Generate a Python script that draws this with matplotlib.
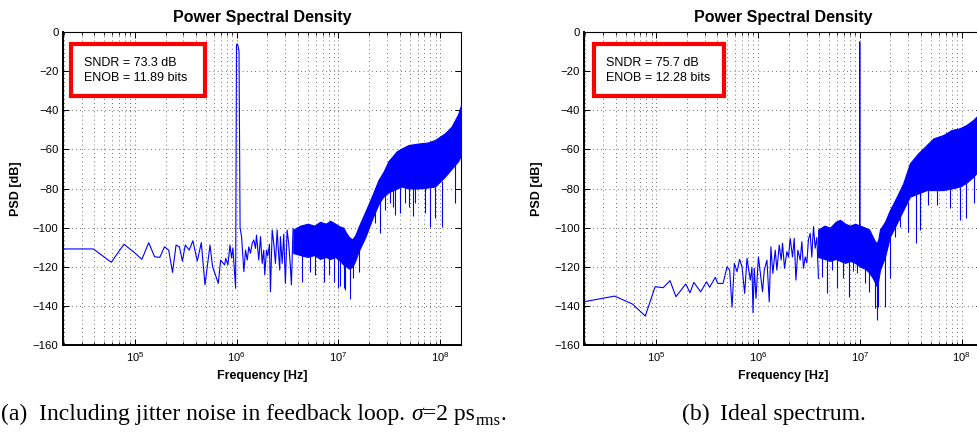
import matplotlib
matplotlib.use('Agg')
import matplotlib.pyplot as plt
from matplotlib.patches import Rectangle
from matplotlib.ticker import LogLocator, NullFormatter, LogFormatterSciNotation

plt.rcParams['font.family'] = ['Liberation Sans', 'DejaVu Sans']
plt.rcParams['mathtext.fontset'] = 'custom'
plt.rcParams['mathtext.rm'] = 'Liberation Sans'
plt.rcParams['mathtext.it'] = 'Liberation Sans:italic'
plt.rcParams['mathtext.bf'] = 'Liberation Sans:bold'

# ---------------- data: (a) jitter in feedback loop ----------------
a_sparse_f = [19531, 39062, 58594, 78125, 97656, 117187, 136719, 156250, 175781, 195312,
              214844, 234375, 253906, 273437, 292969, 312500, 341797, 371094, 410156, 449219,
              488281, 546875, 580000, 660156, 695312, 761719, 781250, 820312, 859375, 890000,
              918000, 976562, 996094, 1015625, 1035156, 1054687, 1080000, 1117000, 1177000, 1223000,
              1270000, 1316000, 1368000, 1421000, 1473000, 1531000, 1566000, 1649000, 1714000, 1781000,
              1846000, 1888000, 1963000, 2022000, 2100000, 2148000, 2233000, 2314000, 2404000, 2498000,
              2590000, 2650000, 2690000, 2800000, 2900000, 3010000, 3130000, 3245000, 3370000, 3450000,
              3580000]
a_sparse_db = [-110.9, -110.9, -117.7, -108.5, -112.5, -116.2, -107.7, -114.9, -115.2, -109.8,
               -111.5, -122.9, -108.9, -109.8, -117.1, -108.9, -111.5, -106.7, -117.1, -107.7,
               -129.3, -108.9, -120.0, -128.5, -116.6, -119.1, -115.7, -119.0, -108.9, -115.5,
               -110.4, -131.0, -6.5, -6.1, -7.5, -10.0, -100.0, -104.6, -122.5, -111.5,
               -116.6, -109.8, -113.1, -108.0, -106.3, -110.6, -103.8, -116.6, -104.6, -118.3,
               -111.5, -124.2, -111.5, -114.5, -108.5, -132.8, -101.2, -108.0, -118.3, -101.2,
               -114.5, -121.7, -104.6, -118.3, -103.3, -128.5, -101.2, -108.0, -120.0, -129.3,
               -100.4]

a_band_f = [3.6e6, 4.2e6, 5.0e6, 5.8e6, 6.6e6, 7.5e6, 8.3e6, 9.3e6, 1.04e7, 1.12e7,
            1.2e7, 1.28e7, 1.37e7, 1.46e7, 1.58e7, 1.83e7, 2.13e7, 2.47e7, 2.77e7, 3.1e7,
            3.74e7, 4.19e7, 4.86e7, 6.09e7, 7.5e7, 8.88e7, 1.11e8, 1.29e8, 1.5e8, 1.6e8]
a_band_top = [-101, -99, -98, -99, -97, -98, -96.5, -98, -99.5, -100,
              -103, -105, -106, -104, -99.5, -92, -84, -75.7, -71.4, -66,
              -61, -59.5, -57.8, -57, -56.5, -55.2, -51.8, -48.4, -42, -37.3]
a_band_bot = [-113, -114, -115, -114, -116, -115, -116, -115, -117, -119,
              -120, -121, -120, -117, -112, -105, -96, -88, -84, -82,
              -80, -79, -80, -80, -79.5, -79, -74, -70, -66, -63]

a_spike_f = [4.39e6, 5.3e6, 5.9e6, 7.26e6, 8.0e6, 9.0e6, 9.8e6, 1.04e7, 1.14e7, 1.17e7,
             1.29e7, 1.40e7, 1.58e7, 2.29e7, 2.57e7, 2.87e7, 3.21e7, 3.47e7, 3.6e7, 4.03e7,
             4.51e7, 4.9e7, 5.44e7, 5.65e7, 7.08e7, 7.93e7, 8.8e7, 1.03e8, 1.39e8]
a_spike_lo = [-127.7, -122.5, -124, -127.7, -124, -127.7, -131, -130, -131, -132,
              -136.5, -126, -122.5, -97.7, -103, -91, -87.6, -89.3, -93.6, -92.5,
              -87.6, -89.5, -94, -87.6, -92.7, -99.5, -95, -99.5, -87.6]
a_spike_hi = [-112, -112, -113, -113, -113, -113, -114, -115, -116, -116,
              -118, -118, -110, -92, -86, -83, -82, -81, -80, -79,
              -79, -79, -79, -79, -79, -79, -79, -76, -68]

# ---------------- data: (b) ideal spectrum ----------------
b_sparse_f = [19531, 39062, 58594, 78125, 97656, 117187, 136719, 156250, 175781, 195312,
              214844, 234375, 273437, 312500, 335000, 381000, 402000, 454000, 497000, 527000,
              556000, 586000, 623000, 660000, 697000, 740000, 780000, 841000, 873000, 894000,
              920000, 956000, 1010000, 1109000, 1153000, 1225000, 1290000, 1340000, 1400000, 1478000,
              1535000, 1618000, 1690000, 1743000, 1823000, 1923000, 1995000, 2073000, 2184000, 2270000,
              2360000, 2467000, 2600000, 2700000, 2800000, 2910000, 3020000, 3135000, 3260000, 3380000,
              3510000, 3650000, 3790000, 3930000]
b_sparse_db = [-137.9, -135.0, -139.1, -145.2, -130.2, -130.7, -127.1, -135.3, -131.9, -128.8,
               -133.3, -128.0, -132.8, -127.7, -130.5, -125.4, -128.5, -128.5, -120.0, -121.7,
               -140.7, -118.3, -122.5, -116.2, -120.0, -133.6, -115.7, -126.8, -120.3, -143.5,
               -120.8, -136.2, -114.9, -132.8, -121.7, -116.6, -137.9, -109.8, -123.4, -111.5,
               -121.7, -108.9, -116.6, -108.0, -120.8, -112.3, -115.0, -105.5, -115.0, -105.5,
               -126.8, -111.5, -116.6, -107.2, -120.8, -115.0, -118.0, -106.0, -102.9, -115.0,
               -99.5, -110.5, -105.0, -125.9]

b_band_f = [3.9e6, 4.5e6, 5.1e6, 5.8e6, 6.4e6, 7.2e6, 8.0e6, 9.0e6, 1.01e7, 1.13e7,
            1.24e7, 1.35e7, 1.41e7, 1.47e7, 1.52e7, 1.58e7, 1.77e7, 1.98e7, 2.31e7, 2.67e7,
            3.11e7, 3.75e7, 4.54e7, 5.27e7, 6.61e7, 7.98e7, 9.62e7, 1.12e8, 1.30e8, 1.40e8, 1.6e8]
b_band_top = [-101, -99, -100, -97, -96, -98, -99, -98, -99, -100,
              -101, -105, -107, -108, -106, -101, -97, -91, -84.2, -77.4,
              -67.1, -62, -57.8, -54.4, -52.7, -50.1, -49.2, -47.5, -45, -43.3, -41]
b_band_bot = [-115, -116, -117, -116, -117, -118, -117, -118, -120, -121,
              -123, -126, -128, -130, -127, -121.7, -114.9, -104.6, -97.8, -91,
              -84.2, -82.5, -80.8, -80.8, -80.8, -80, -79, -77, -74, -72.2, -69]

b_spike_f = [4.24e6, 4.74e6, 5.31e6, 6.03e6, 6.90e6, 7.85e6, 8.65e6, 9.35e6, 1.13e7, 1.24e7,
             1.41e7, 1.47e7, 1.52e7, 1.77e7, 2.0e7, 2.21e7, 2.48e7, 2.99e7, 3.56e7, 3.9e7,
             4.71e7, 5.69e7, 7.67e7, 9.62e7, 1.10e8, 1.33e8]
b_spike_lo = [-125, -133.6, -121.7, -131, -126, -135.3, -122, -123.4, -128.5, -132.8,
              -141.3, -147.2, -140.4, -140.4, -125.9, -104.6, -99.5, -102.1, -108, -101,
              -88.4, -88.4, -90.1, -96.1, -95.3, -87.6]
b_spike_hi = [-114, -114, -114, -115, -115, -115, -116, -116, -118, -120,
              -124, -126, -124, -112, -104, -98, -94, -87, -83, -82,
              -80, -80, -80, -79, -77, -73]

b_tone_f = [9.96e6, 1.0e7, 1.004e7]
b_tone_db = [-100, -5, -100]

xlim = (19531, 1.6e8)
ylim = (-160, 0)
yticks = list(range(-160, 1, 20))
labels_box = [["SNDR = 73.3 dB", "ENOB = 11.89 bits"], ["SNDR = 75.7 dB", "ENOB = 12.28 bits"]]

W, H = 977, 436
fig = plt.figure(figsize=(W / 100, H / 100), dpi=100)


def px_axes(x0, y0, x1, y1):
    return [x0 / W, 1 - y1 / H, (x1 - x0) / W, (y1 - y0) / H]


axL = fig.add_axes(px_axes(62.7, 32, 461, 345))
axR = fig.add_axes(px_axes(584, 32, 982.3, 345))

BLUE = '#0000ff'


def style(ax, box_lines, box_x0, box_x1):
    ax.set_xscale('log')
    ax.set_xlim(*xlim)
    ax.set_ylim(*ylim)
    ax.set_yticks(yticks)
    ax.xaxis.set_major_locator(LogLocator(base=10, numticks=20))
    ax.xaxis.set_minor_locator(LogLocator(base=10, subs=range(2, 10), numticks=20))
    ax.xaxis.set_major_formatter(LogFormatterSciNotation())
    ax.xaxis.set_minor_formatter(NullFormatter())
    ax.tick_params(which='both', direction='in', top=True, right=True)
    ax.tick_params(axis='y', labelsize=8.2, pad=3)
    ax.tick_params(axis='x', labelsize=8, pad=4)
    ax.tick_params(which='major', length=4, width=0.7)
    ax.tick_params(which='minor', length=2, width=0.6)
    gl = dict(color='0.25', linestyle=(0, (1, 4)), linewidth=0.6)
    ax.grid(True, which='both', axis='x', **gl)
    ax.grid(True, which='major', axis='y', **gl)
    ax.set_axisbelow(True)
    for s in ['left', 'bottom']:
        ax.spines[s].set_linewidth(1.4)
    for s in ['top', 'right']:
        ax.spines[s].set_linewidth(0.8)
    ax.set_title('Power Spectral Density', fontsize=11.5, fontweight='bold', pad=7.4)
    ax.set_xlabel('Frequency [Hz]', fontsize=9, fontweight='bold')
    ax.set_ylabel('PSD [dB]', fontsize=9, fontweight='bold')
    ax.xaxis.set_label_coords(0.5, -0.08)
    ax.yaxis.set_label_coords(-0.102, 0.5)
    ax.add_patch(Rectangle((box_x0, 0.7946), box_x1 - box_x0, 0.9626 - 0.7946,
                           transform=ax.transAxes, facecolor='white', edgecolor='#ff0000',
                           linewidth=3, zorder=6, clip_on=False))
    ax.text(0.054, 0.900, box_lines[0], transform=ax.transAxes, va='center', ha='left',
            fontsize=9, zorder=7)
    ax.text(0.054, 0.852, box_lines[1], transform=ax.transAxes, va='center', ha='left',
            fontsize=9, zorder=7)


def draw(ax, sf, sdb, bf, btop, bbot, kf, klo, khi):
    ax.plot(sf, sdb, color=BLUE, lw=0.8, zorder=3)
    ax.fill_between(bf, bbot, btop, facecolor=BLUE, edgecolor=BLUE, lw=0.8, zorder=3)
    ax.vlines(kf, klo, khi, color=BLUE, lw=0.8, zorder=3)


draw(axL, a_sparse_f, a_sparse_db, a_band_f, a_band_top, a_band_bot, a_spike_f, a_spike_lo, a_spike_hi)
draw(axR, b_sparse_f, b_sparse_db, b_band_f, b_band_top, b_band_bot, b_spike_f, b_spike_lo, b_spike_hi)
axR.plot(b_tone_f, b_tone_db, color=BLUE, lw=0.8, zorder=3)

style(axL, labels_box[0], 0.0216, 0.3565)
style(axR, labels_box[1], 0.0243, 0.3526)

# ---------------- captions ----------------
renderer = fig.canvas.get_renderer()
CAP = dict(family=['Liberation Serif', 'DejaVu Serif'], fontsize=17, va='baseline', ha='left')
base_y = 1 - 420 / H


def put(xpx, s, ypx_off=0, **kw):
    d = dict(CAP)
    d.update(kw)
    t = fig.text(xpx / W, base_y - ypx_off / H, s, **d)
    bb = t.get_window_extent(renderer=renderer)
    return xpx + bb.width


put(0.5, '(a)')
x = put(39.3, 'Including jitter noise in feedback loop.')
x = put(x + 6, 'σ', style='italic')
x = put(x, '=2 ps')
x = put(x + 0.5, 'rms', ypx_off=5, fontsize=12)
put(x, '.')
put(681.7, '(b)')
put(720, 'Ideal spectrum.')

fig.savefig('out.png', dpi=100)
